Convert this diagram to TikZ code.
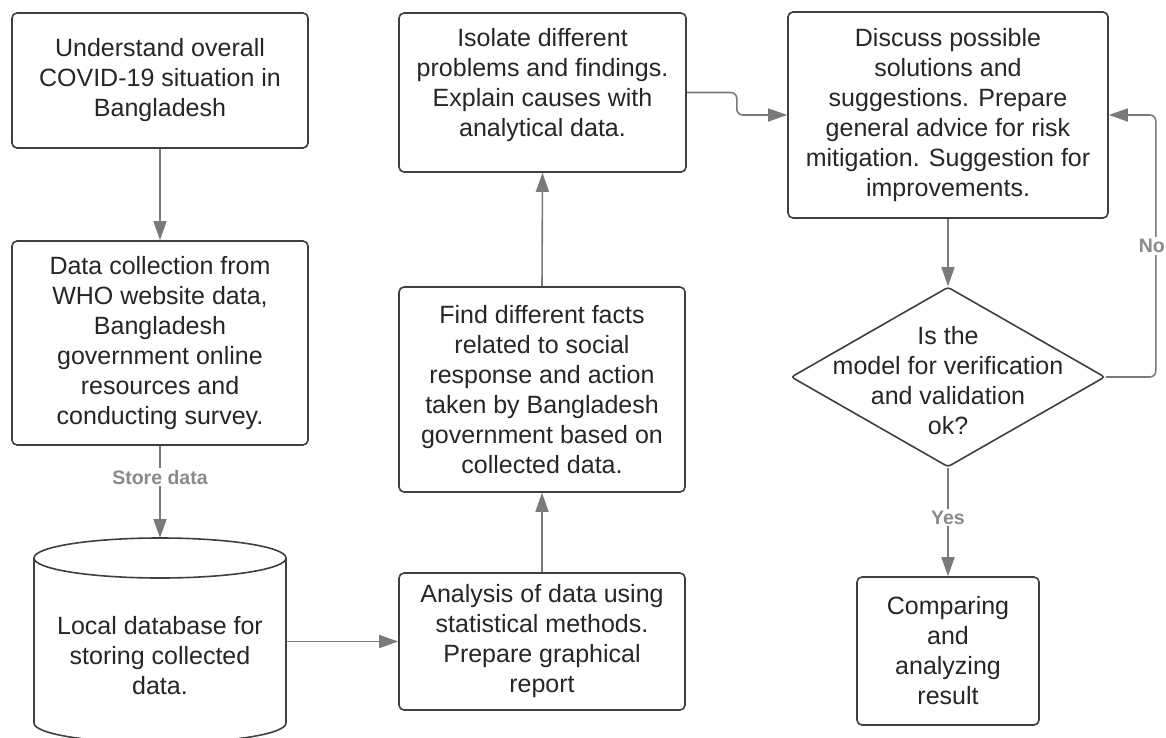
\documentclass[tikz,border=0pt]{standalone}
\usepackage{fontspec}
\setmainfont{Liberation Sans}
\usetikzlibrary{arrows.meta,shapes.geometric}
\definecolor{bordc}{HTML}{3F3F3F}
\definecolor{linec}{HTML}{7A7A7A}
\definecolor{txtc}{HTML}{262626}
\definecolor{labc}{HTML}{8A8A8A}
\tikzset{
 box/.style={draw=bordc, line width=1.6pt, rounded corners=5pt, fill=white, inner sep=0pt, align=center, text=txtc, font=\fontsize{25}{30}\selectfont},
 txt/.style={inner sep=0pt, align=center, text=txtc, font=\fontsize{25}{30}\selectfont},
 arr/.style={draw=linec, line width=1.6pt, -{Triangle[length=19pt,width=13pt]}},
 lab/.style={fill=white, inner sep=2pt, text=labc, font=\fontsize{19.5}{22}\selectfont\bfseries},
 shp/.style={draw=bordc, line width=1.6pt, fill=white},
}
\begin{document}
\begin{tikzpicture}[x=1pt,y=-1pt]
\useasboundingbox (0,0) rectangle (1166,738);
\clip (0,0) rectangle (1166,738);
% boxes
\node[box, minimum width=296pt, minimum height=135pt] (b1) at (160,80.5) {Understand overall\\COVID-19 situation in\\Bangladesh};
\node[box, minimum width=296pt, minimum height=204pt] (b2) at (160,343) {Data collection from\\WHO website data,\\Bangladesh\\government online\\resources and\\conducting survey.};
% cylinder
\draw[shp] (34,558) -- (34,723) arc[start angle=180, end angle=360, x radius=126pt, y radius=20pt] -- (286,558) arc[start angle=0, end angle=180, x radius=126pt, y radius=20pt] -- cycle;
\draw[shp, fill=none] (34,558) arc[start angle=180, end angle=360, x radius=126pt, y radius=20pt];
\node[txt] (db) at (160,656) {Local database for\\storing collected\\data.};
\coordinate (dbtop) at (160,538);
\coordinate (dbr) at (286,641.5);
\node[box, minimum width=286pt, minimum height=137pt] (ana) at (542,641.5) {Analysis of data using\\statistical methods.\\Prepare graphical\\report};
\node[box, minimum width=286pt, minimum height=205pt] (find) at (542,389.5) {Find different facts\\related to social\\response and action\\taken by Bangladesh\\government based on\\collected data.};
\node[box, minimum width=287pt, minimum height=159pt] (iso) at (542.5,92.5) {};
\node[txt] (isot) at (542.5,85) {Isolate different\\problems and findings.\\Explain causes with\\analytical data.};
\node[box, minimum width=320pt, minimum height=206pt] (dis) at (948,115) {Discuss possible\\solutions and\\suggestions. Prepare\\general advice for risk\\mitigation. Suggestion for\\improvements.};
\node[shp, diamond, rounded corners=3pt, inner sep=0pt, minimum width=314pt, minimum height=180pt] (dia) at (948,377) {};
\node[txt] (diat) at (948,381) {Is the\\model for verification\\and validation\\ok?};
\node[box, minimum width=182pt, minimum height=148pt] (cmp) at (948,651) {Comparing\\and\\analyzing\\result};
% connectors
\draw[arr] (b1.south) -- (b2.north);
\draw[arr] (b2.south) -- node[lab, pos=0.34] {Store data} (dbtop);
\draw[arr] (dbr) -- (ana.west);
\draw[arr] (ana.north) -- (find.south);
\draw[arr] (find.north) -- (iso.south);
\draw[arr, rounded corners=6pt] (iso.east) -- ([xshift=50pt]iso.east) |- (dis.west);
\draw[arr] (dis.south) -- (dia.north);
\draw[arr] (dia.south) -- node[lab, pos=0.46] {Yes} (cmp.north);
\draw[arr, rounded corners=6pt] (dia.east) -- ([xshift=50pt]dia.east) |- node[lab, pos=0.25, xshift=-4pt, inner xsep=1pt] {No} (dis.east);
\end{tikzpicture}
\end{document}
